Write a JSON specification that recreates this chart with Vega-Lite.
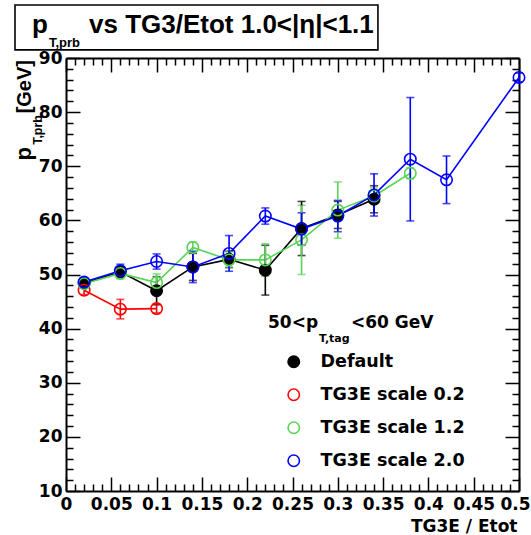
{
  "$schema": "https://vega.github.io/schema/vega-lite/v6.json",
  "width": 453,
  "height": 433,
  "autosize": "none",
  "padding": {"left": 66, "top": 58, "right": 12, "bottom": 44},
  "background": "white",
  "config": {
    "view": {"stroke": null},
    "axis": {
      "grid": false,
      "domainColor": "black",
      "domainWidth": 2,
      "tickColor": "black",
      "tickWidth": 1.5,
      "labelColor": "black",
      "labelFont": "DejaVu Sans",
      "labelFontWeight": "bold",
      "labelFontSize": 17,
      "labelFlush": false,
      "labelOverlap": false,
      "labelBound": false
    },
    "legend": {
      "orient": "none",
      "legendX": 219,
      "legendY": 295,
      "padding": 0,
      "labelFont": "DejaVu Sans",
      "labelFontSize": 17.5,
      "labelFontWeight": "bold",
      "labelColor": "black",
      "symbolSize": 130,
      "symbolStrokeWidth": 1.6,
      "symbolType": "circle",
      "labelOffset": 18,
      "rowPadding": 14
    }
  },
  "datasets": {
    "points": [
      {"series": "Default", "x": 0.02, "v": 48.4, "e": 0.8},
      {"series": "Default", "x": 0.06, "v": 50.5, "e": 0.9},
      {"series": "Default", "x": 0.10, "v": 47.0, "e": 2.6},
      {"series": "Default", "x": 0.14, "v": 51.4, "e": 2.5},
      {"series": "Default", "x": 0.18, "v": 52.8, "e": 1.5},
      {"series": "Default", "x": 0.22, "v": 50.8, "e": 4.6},
      {"series": "Default", "x": 0.26, "v": 58.5, "e": 5.0},
      {"series": "Default", "x": 0.30, "v": 61.0, "e": 2.5},
      {"series": "Default", "x": 0.34, "v": 63.9, "e": 2.5},
      {"series": "TG3E scale 0.2", "x": 0.02, "v": 47.1, "e": 0.8},
      {"series": "TG3E scale 0.2", "x": 0.06, "v": 43.6, "e": 1.8},
      {"series": "TG3E scale 0.2", "x": 0.10, "v": 43.7, "e": 0.8},
      {"series": "TG3E scale 1.2", "x": 0.02, "v": 48.3, "e": 0.8},
      {"series": "TG3E scale 1.2", "x": 0.06, "v": 50.2, "e": 1.0},
      {"series": "TG3E scale 1.2", "x": 0.10, "v": 48.5, "e": 1.6},
      {"series": "TG3E scale 1.2", "x": 0.14, "v": 55.0, "e": 1.0},
      {"series": "TG3E scale 1.2", "x": 0.18, "v": 52.7, "e": 1.5},
      {"series": "TG3E scale 1.2", "x": 0.22, "v": 52.7, "e": 3.0},
      {"series": "TG3E scale 1.2", "x": 0.26, "v": 56.4, "e": 6.4},
      {"series": "TG3E scale 1.2", "x": 0.30, "v": 61.9, "e": 5.2},
      {"series": "TG3E scale 1.2", "x": 0.34, "v": 64.5, "e": 1.5},
      {"series": "TG3E scale 1.2", "x": 0.38, "v": 68.7, "e": 1.0},
      {"series": "TG3E scale 2.0", "x": 0.02, "v": 48.6, "e": 0.8},
      {"series": "TG3E scale 2.0", "x": 0.06, "v": 50.7, "e": 1.2},
      {"series": "TG3E scale 2.0", "x": 0.10, "v": 52.4, "e": 1.4},
      {"series": "TG3E scale 2.0", "x": 0.14, "v": 51.4, "e": 2.9},
      {"series": "TG3E scale 2.0", "x": 0.18, "v": 53.9, "e": 3.3},
      {"series": "TG3E scale 2.0", "x": 0.22, "v": 60.8, "e": 1.5},
      {"series": "TG3E scale 2.0", "x": 0.26, "v": 58.4, "e": 3.0},
      {"series": "TG3E scale 2.0", "x": 0.30, "v": 60.8, "e": 2.9},
      {"series": "TG3E scale 2.0", "x": 0.34, "v": 64.7, "e": 3.9},
      {"series": "TG3E scale 2.0", "x": 0.38, "v": 71.3, "e": 11.4},
      {"series": "TG3E scale 2.0", "x": 0.42, "v": 67.5, "e": 4.4},
      {"series": "TG3E scale 2.0", "x": 0.50, "v": 86.4, "e": 0.8}
    ]
  },
  "layer": [
    {
      "data": {"name": "points"},
      "layer": [
        {
          "mark": {"type": "line", "strokeWidth": 1.6},
          "encoding": {
            "x": {
              "field": "x", "type": "quantitative",
              "scale": {"domain": [0, 0.5], "nice": false, "zero": false},
              "axis": {
                "orient": "bottom",
                "values": [0, 0.05, 0.1, 0.15, 0.2, 0.25, 0.3, 0.35, 0.4, 0.45, 0.5],
                "format": "~g",
                "tickSize": -14,
                "labelPadding": 19,
                "labelOffset": {"condition": {"test": "datum.value >= 0.5", "value": -4}, "value": 0},
                "labelOverlap": false,
                "title": "TG3E / Etot",
                "titleFont": "DejaVu Sans",
                "titleFontWeight": "bold",
                "titleFontSize": 17,
                "titleColor": "black",
                "titleAnchor": "end",
                "titleAlign": "right",
                "titleBaseline": "alphabetic",
                "titleX": 451,
                "titleY": 40
              }
            },
            "y": {
              "field": "v", "type": "quantitative",
              "scale": {"domain": [10, 90], "nice": false, "zero": false},
              "axis": {
                "orient": "left",
                "values": [10, 20, 30, 40, 50, 60, 70, 80, 90],
                "format": "d",
                "tickSize": -14,
                "labelPadding": 18,
                "labelOverlap": false,
                "title": null
              }
            },
            "color": {
              "field": "series", "type": "nominal",
              "scale": {"domain": ["Default", "TG3E scale 0.2", "TG3E scale 1.2", "TG3E scale 2.0"], "range": ["#000000", "#ff0000", "#59d454", "#0000ff"]},
              "legend": null
            },
            "order": {"field": "x"}
          }
        },
        {
          "mark": {"type": "errorbar", "ticks": {"size": 8}, "thickness": 1.6},
          "encoding": {
            "x": {"field": "x", "type": "quantitative"},
            "y": {"field": "v", "type": "quantitative"},
            "yError": {"field": "e"},
            "color": {
              "field": "series", "type": "nominal",
              "scale": {"domain": ["Default", "TG3E scale 0.2", "TG3E scale 1.2", "TG3E scale 2.0"], "range": ["#000000", "#ff0000", "#59d454", "#0000ff"]},
              "legend": null
            }
          }
        }
      ]
    },
    {
      "data": {"name": "points"},
      "mark": {"type": "point", "shape": "circle", "size": 130, "strokeWidth": 1.6, "filled": false, "opacity": 1},
      "encoding": {
        "x": {"field": "x", "type": "quantitative", "axis": null},
        "y": {"field": "v", "type": "quantitative", "axis": null},
        "color": {
          "field": "series", "type": "nominal",
          "scale": {"domain": ["Default", "TG3E scale 0.2", "TG3E scale 1.2", "TG3E scale 2.0"], "range": ["#000000", "#ff0000", "#59d454", "#0000ff"]},
          "legend": {"title": null}
        },
        "fill": {
          "field": "series", "type": "nominal",
          "scale": {"domain": ["Default", "TG3E scale 0.2", "TG3E scale 1.2", "TG3E scale 2.0"], "range": ["#000000", "transparent", "transparent", "transparent"]},
          "legend": {"title": null}
        }
      }
    },
    {
      "data": {"name": "points"},
      "mark": {"type": "point", "opacity": 0},
      "encoding": {
        "x": {
          "field": "x", "type": "quantitative",
          "axis": {
            "orient": "bottom", "domain": false, "labels": false, "title": null, "tickSize": -7,
            "values": [0.01, 0.02, 0.03, 0.04, 0.06, 0.07, 0.08, 0.09, 0.11, 0.12, 0.13, 0.14, 0.16, 0.17, 0.18, 0.19, 0.21, 0.22, 0.23, 0.24, 0.26, 0.27, 0.28, 0.29, 0.31, 0.32, 0.33, 0.34, 0.36, 0.37, 0.38, 0.39, 0.41, 0.42, 0.43, 0.44, 0.46, 0.47, 0.48, 0.49]
          }
        },
        "y": {
          "field": "v", "type": "quantitative",
          "axis": {
            "orient": "left", "domain": false, "labels": false, "title": null, "tickSize": -7,
            "values": [12, 14, 16, 18, 22, 24, 26, 28, 32, 34, 36, 38, 42, 44, 46, 48, 52, 54, 56, 58, 62, 64, 66, 68, 72, 74, 76, 78, 82, 84, 86, 88]
          }
        }
      }
    },
    {
      "data": {"name": "points"},
      "mark": {"type": "point", "opacity": 0},
      "encoding": {
        "x": {
          "field": "x", "type": "quantitative",
          "axis": {
            "orient": "top", "labels": false, "title": null, "tickSize": -14,
            "values": [0, 0.05, 0.1, 0.15, 0.2, 0.25, 0.3, 0.35, 0.4, 0.45, 0.5]
          }
        },
        "y": {
          "field": "v", "type": "quantitative",
          "axis": {
            "orient": "right", "labels": false, "title": null, "tickSize": -14,
            "values": [10, 20, 30, 40, 50, 60, 70, 80, 90]
          }
        }
      }
    },
    {
      "data": {"name": "points"},
      "mark": {"type": "point", "opacity": 0},
      "encoding": {
        "x": {
          "field": "x", "type": "quantitative",
          "axis": {
            "orient": "top", "domain": false, "labels": false, "title": null, "tickSize": -7,
            "values": [0.01, 0.02, 0.03, 0.04, 0.06, 0.07, 0.08, 0.09, 0.11, 0.12, 0.13, 0.14, 0.16, 0.17, 0.18, 0.19, 0.21, 0.22, 0.23, 0.24, 0.26, 0.27, 0.28, 0.29, 0.31, 0.32, 0.33, 0.34, 0.36, 0.37, 0.38, 0.39, 0.41, 0.42, 0.43, 0.44, 0.46, 0.47, 0.48, 0.49]
          }
        },
        "y": {
          "field": "v", "type": "quantitative",
          "axis": {
            "orient": "right", "domain": false, "labels": false, "title": null, "tickSize": -7,
            "values": [12, 14, 16, 18, 22, 24, 26, 28, 32, 34, 36, 38, 42, 44, 46, 48, 52, 54, 56, 58, 62, 64, 66, 68, 72, 74, 76, 78, 82, 84, 86, 88]
          }
        }
      }
    },
    {
      "layer": [
        {
          "data": {"values": [{"x0": -0.0563, "x1": 0.3443, "y0": 91.5, "y1": 99.8}]},
          "mark": {"type": "rect", "fill": "white", "stroke": "black", "strokeWidth": 1.6},
          "encoding": {
            "x": {"field": "x0", "type": "quantitative", "axis": null},
            "x2": {"field": "x1"},
            "y": {"field": "y0", "type": "quantitative", "axis": null},
            "y2": {"field": "y1"}
          }
        },
        {
          "data": {"values": [{"t": "p", "x": -0.0375, "y": 94.62}, {"t": "vs TG3/Etot 1.0<|η|<1.1", "x": 0.0254, "y": 94.62}]},
          "mark": {"type": "text", "font": "Liberation Sans", "fontWeight": "bold", "fontSize": 26, "align": "left", "baseline": "alphabetic", "color": "black"},
          "encoding": {
            "x": {"field": "x", "type": "quantitative", "axis": null},
            "y": {"field": "y", "type": "quantitative", "axis": null},
            "text": {"field": "t"}
          }
        },
        {
          "data": {"values": [{"t": "T,prb", "x": -0.0188, "y": 92.12}]},
          "mark": {"type": "text", "font": "Liberation Sans", "fontWeight": "bold", "fontSize": 13, "align": "left", "baseline": "alphabetic", "color": "black"},
          "encoding": {
            "x": {"field": "x", "type": "quantitative", "axis": null},
            "y": {"field": "y", "type": "quantitative", "axis": null},
            "text": {"field": "t"}
          }
        },
        {
          "data": {"values": [{"t": "[GeV]", "x": -0.0386, "y": 89.63}]},
          "mark": {"type": "text", "font": "Liberation Sans", "fontWeight": "bold", "fontSize": 20, "align": "right", "baseline": "alphabetic", "angle": 270, "color": "black"},
          "encoding": {
            "x": {"field": "x", "type": "quantitative", "axis": null},
            "y": {"field": "y", "type": "quantitative", "axis": null},
            "text": {"field": "t"}
          }
        },
        {
          "data": {"values": [{"t": "p", "x": -0.0386, "y": 73.56}]},
          "mark": {"type": "text", "font": "Liberation Sans", "fontWeight": "bold", "fontSize": 22, "align": "right", "baseline": "alphabetic", "angle": 270, "color": "black"},
          "encoding": {
            "x": {"field": "x", "type": "quantitative", "axis": null},
            "y": {"field": "y", "type": "quantitative", "axis": null},
            "text": {"field": "t"}
          }
        },
        {
          "data": {"values": [{"t": "T,prb", "x": -0.0265, "y": 79.47}]},
          "mark": {"type": "text", "font": "Liberation Sans", "fontWeight": "bold", "fontSize": 12.5, "align": "right", "baseline": "alphabetic", "angle": 270, "color": "black"},
          "encoding": {
            "x": {"field": "x", "type": "quantitative", "axis": null},
            "y": {"field": "y", "type": "quantitative", "axis": null},
            "text": {"field": "t"}
          }
        },
        {
          "data": {"values": [{"t": "50<p", "x": 0.2230, "y": 40.12}, {"t": "<60 GeV", "x": 0.3146, "y": 40.12}]},
          "mark": {"type": "text", "font": "DejaVu Sans", "fontWeight": "bold", "fontSize": 17, "align": "left", "baseline": "alphabetic", "color": "black"},
          "encoding": {
            "x": {"field": "x", "type": "quantitative", "axis": null},
            "y": {"field": "y", "type": "quantitative", "axis": null},
            "text": {"field": "t"}
          }
        },
        {
          "data": {"values": [{"t": "T,tag", "x": 0.2792, "y": 37.53}]},
          "mark": {"type": "text", "font": "DejaVu Sans", "fontWeight": "bold", "fontSize": 11, "align": "left", "baseline": "alphabetic", "color": "black"},
          "encoding": {
            "x": {"field": "x", "type": "quantitative", "axis": null},
            "y": {"field": "y", "type": "quantitative", "axis": null},
            "text": {"field": "t"}
          }
        }
      ]
    }
  ],
  "resolve": {"axis": {"x": "independent", "y": "independent"}, "legend": {"color": "independent", "fill": "independent"}}
}
